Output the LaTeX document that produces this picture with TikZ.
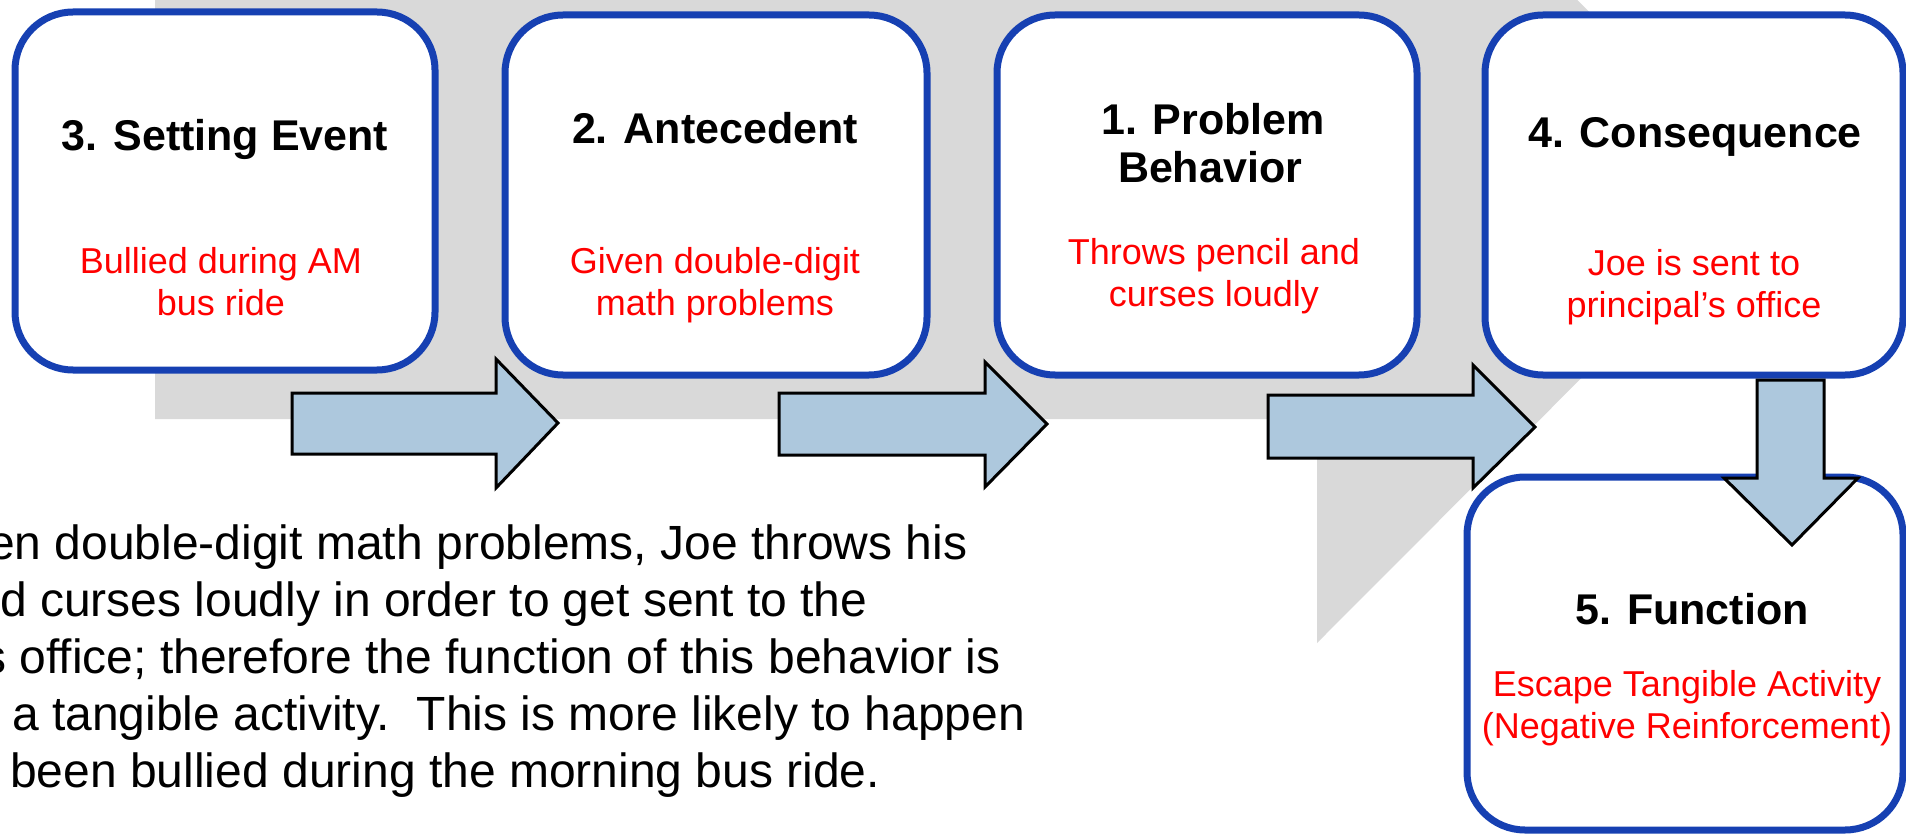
\documentclass[tikz,border=0pt]{standalone}
\usepackage{fontspec}
\setmainfont{Liberation Sans}
\definecolor{boxblue}{RGB}{22,64,178}
\definecolor{bggray}{RGB}{217,217,217}
\definecolor{arrowfill}{RGB}{173,200,221}
\begin{document}
\begin{tikzpicture}[x=1pt,y=-1pt,
  stepbox/.style={draw=boxblue, line width=7pt, fill=white, rounded corners=58pt, inner sep=0pt},
  title/.style={font=\fontsize{43}{50}\selectfont\bfseries, anchor=base, inner sep=0pt},
  desc/.style={font=\fontsize{36}{42}\selectfont, text=red, anchor=base, inner sep=0pt},
  para/.style={font=\fontsize{48}{57}\selectfont, anchor=base west, inner sep=0pt},
  fatarrow/.style={draw=black, line width=3pt, fill=arrowfill, line join=miter}]
\useasboundingbox (0,0) rectangle (1906,834);
\clip (0,0) rectangle (1906,834);
% gray background arrow
\fill[bggray] (155,-40) -- (1317,-40) -- (1317,-261) -- (1768,191) -- (1317,643) -- (1317,419) -- (155,419) -- cycle;
% boxes
\node[stepbox, minimum width=420pt, minimum height=358pt] (b3) at (225,191) {};
\node[stepbox, minimum width=422pt, minimum height=360pt] (b2) at (716,195) {};
\node[stepbox, minimum width=420pt, minimum height=360pt] (b1) at (1207,195) {};
\node[stepbox, minimum width=418pt, minimum height=360pt] (b4) at (1694,195) {};
\node[stepbox, minimum width=436pt, minimum height=353pt] (b5) at (1685,653.5) {};
% texts
\node[title] (t3) at (225,151) {3. Setting Event};
\node[desc] (d3a) at (221,274) {Bullied during AM};
\node[desc] (d3b) at (221,316) {bus ride};
\node[title] (t2) at (715,144) {2. Antecedent};
\node[desc] (d2a) at (715,274) {Given double-digit};
\node[desc] (d2b) at (715,316) {math problems};
\node[title] (t1a) at (1213,135) {1. Problem};
\node[title] (t1b) at (1210,183) {Behavior};
\node[desc] (d1a) at (1214,265) {Throws pencil and};
\node[desc] (d1b) at (1214,306) {curses loudly};
\node[title] (t4) at (1695,148) {4. Consequence};
\node[desc] (d4a) at (1694,276) {Joe is sent to};
\node[desc] (d4b) at (1694,318) {principal’s office};
\node[title] (t5) at (1692,624) {5. Function};
\node[desc] (d5a) at (1687,696) {Escape Tangible Activity};
\node[desc] (d5b) at (1687,738) {(Negative Reinforcement)};
% block arrows
\draw[fatarrow] (292,393) -- (496,393) -- (496,359) -- (558,423) -- (496,488) -- (496,454) -- (292,454) -- cycle;
\draw[fatarrow] (779,393) -- (985,393) -- (985,362) -- (1047,424) -- (985,487) -- (985,455) -- (779,455) -- cycle;
\draw[fatarrow] (1268,395) -- (1473,395) -- (1473,365) -- (1535,427) -- (1473,488) -- (1473,458) -- (1268,458) -- cycle;
\draw[fatarrow] (1757,380) -- (1824,380) -- (1824,478) -- (1858,478) -- (1792,545) -- (1724,478) -- (1757,478) -- cycle;
% paragraph
\node[para] (p1) at (-12,559) {en double-digit math problems, Joe throws his};
\node[para] (p2) at (0,616) {d curses loudly in order to get sent to the};
\node[para] (p3) at (-18,673) {s office; therefore the function of this behavior is};
\node[para] (p4) at (12,730) {a tangible activity.\ \ This is more likely to happen};
\node[para] (p5) at (10,787) {been bullied during the morning bus ride.};
\end{tikzpicture}
\end{document}
